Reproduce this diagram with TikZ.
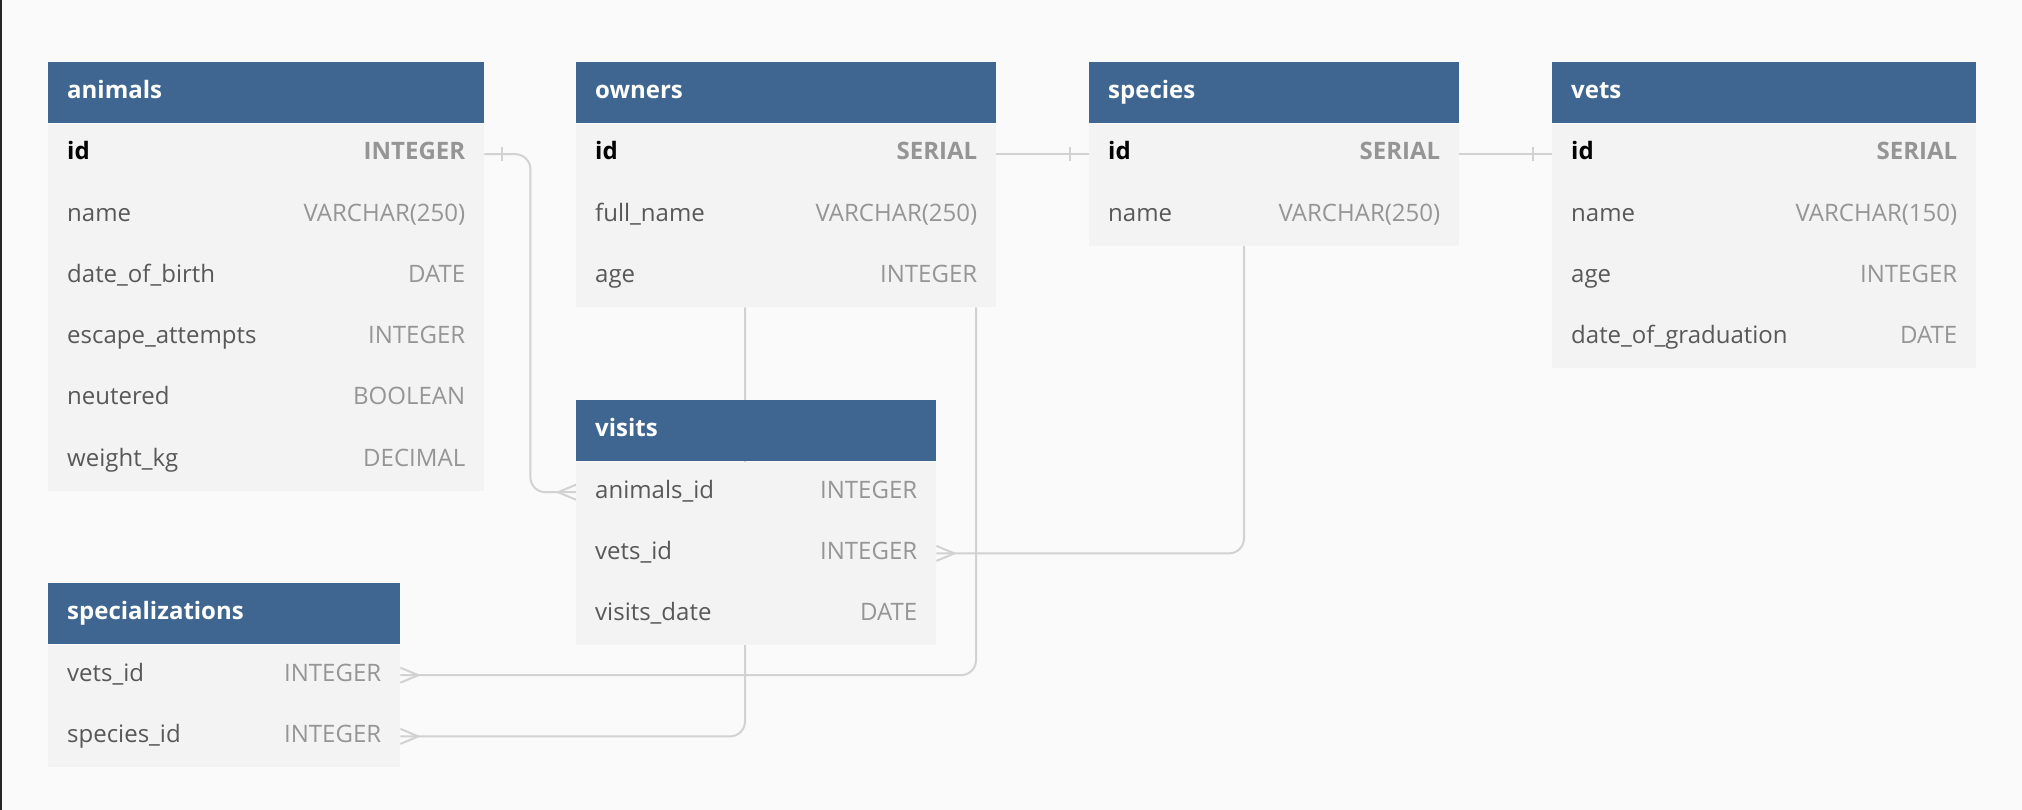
\documentclass[tikz,border=0pt]{standalone}
\usepackage{fontspec}
\setmainfont{Open Sans}
\usetikzlibrary{calc}
\pgfdeclarelayer{back}
\pgfdeclarelayer{wires}
\pgfsetlayers{back,wires,main}
\definecolor{pagebg}{HTML}{FAFAFA}
\definecolor{hdrblue}{HTML}{3F6690}
\definecolor{rowbg}{HTML}{F3F3F3}
\definecolor{fname}{HTML}{585858}
\definecolor{ftype}{HTML}{959595}
\definecolor{wire}{HTML}{D2D2D2}
\definecolor{edge}{HTML}{262626}
\tikzset{
  hdr/.style={fill=hdrblue, draw=none, inner sep=0pt, minimum height=61pt, anchor=north west},
  rowbox/.style={fill=rowbg, draw=none, inner sep=0pt, minimum height=61.2pt, anchor=north west},
  titletext/.style={text=white, font=\fontsize{24}{29}\selectfont\bfseries, inner sep=0pt, anchor=base west},
  fld/.style={text=fname, font=\fontsize{24}{29}\selectfont, inner sep=0pt, anchor=base west},
  typ/.style={text=ftype, font=\fontsize{24}{29}\selectfont, inner sep=0pt, anchor=base east},
  keyfld/.style={text=black, font=\fontsize{24}{29}\selectfont\bfseries, inner sep=0pt, anchor=base west},
  keytyp/.style={text=ftype, font=\fontsize{24}{29}\selectfont\bfseries, inner sep=0pt, anchor=base east},
  conn/.style={draw=wire, line width=2pt, rounded corners=15pt},
  ermark/.style={draw=wire, line width=2pt},
}
\newcommand{\erTable}[5]{%
  \node[hdr, minimum width=#4pt] (#1) at (#2,#3) {};
  \node[titletext] (#1-t) at ([xshift=19pt,yshift=-5.8pt]#1.west) {#5};
}
\newcommand{\erRow}[7]{%
  \node[rowbox, minimum width=#3pt] (#1-r#2) at ([yshift={-(#2-1)*61.2pt}]#1.south west) {};
  \node[#6] (#1-n#2) at ([xshift=19pt,yshift=-5.8pt]#1-r#2.west) {#4};
  \node[#7] (#1-y#2) at ([xshift=-19pt,yshift=-5.8pt]#1-r#2.east) {#5};
}
\newcommand{\crowW}[1]{%
  \draw[ermark] ([xshift=-18pt]#1) -- ([yshift=7.5pt]#1) ([xshift=-18pt]#1) -- ([yshift=-7.5pt]#1);
}
\newcommand{\crowE}[1]{%
  \draw[ermark] ([xshift=18pt]#1) -- ([yshift=7.5pt]#1) ([xshift=18pt]#1) -- ([yshift=-7.5pt]#1);
}
\newcommand{\tickAt}[2]{%
  \draw[ermark] ([xshift=#2pt,yshift=6.8pt]#1) -- ([xshift=#2pt,yshift=-6.8pt]#1);
}
\begin{document}
\begin{tikzpicture}[x=1pt,y=-1pt]
\useasboundingbox (0,0) rectangle (2022,810);
\begin{pgfonlayer}{back}
  \fill[pagebg] (0,0) rectangle (2022,810);
  \fill[edge] (0,0) rectangle (2.3,810);
\end{pgfonlayer}

% animals
\erTable{animals}{48}{62}{436}{animals}
\erRow{animals}{1}{436}{id}{INTEGER}{keyfld}{keytyp}
\erRow{animals}{2}{436}{name}{VARCHAR(250)}{fld}{typ}
\erRow{animals}{3}{436}{date\_of\_birth}{DATE}{fld}{typ}
\erRow{animals}{4}{436}{escape\_attempts}{INTEGER}{fld}{typ}
\erRow{animals}{5}{436}{neutered}{BOOLEAN}{fld}{typ}
\erRow{animals}{6}{436}{weight\_kg}{DECIMAL}{fld}{typ}

% owners
\erTable{owners}{576}{62}{420}{owners}
\erRow{owners}{1}{420}{id}{SERIAL}{keyfld}{keytyp}
\erRow{owners}{2}{420}{full\_name}{VARCHAR(250)}{fld}{typ}
\erRow{owners}{3}{420}{age}{INTEGER}{fld}{typ}

% species
\erTable{species}{1089}{62}{370}{species}
\erRow{species}{1}{370}{id}{SERIAL}{keyfld}{keytyp}
\erRow{species}{2}{370}{name}{VARCHAR(250)}{fld}{typ}

% vets
\erTable{vets}{1552}{62}{424}{vets}
\erRow{vets}{1}{424}{id}{SERIAL}{keyfld}{keytyp}
\erRow{vets}{2}{424}{name}{VARCHAR(150)}{fld}{typ}
\erRow{vets}{3}{424}{age}{INTEGER}{fld}{typ}
\erRow{vets}{4}{424}{date\_of\_graduation}{DATE}{fld}{typ}

% visits
\erTable{visits}{576}{400}{360}{visits}
\erRow{visits}{1}{360}{animals\_id}{INTEGER}{fld}{typ}
\erRow{visits}{2}{360}{vets\_id}{INTEGER}{fld}{typ}
\erRow{visits}{3}{360}{visits\_date}{DATE}{fld}{typ}

% specializations
\erTable{spec}{48}{583}{352}{specializations}
\erRow{spec}{1}{352}{vets\_id}{INTEGER}{fld}{typ}
\erRow{spec}{2}{352}{species\_id}{INTEGER}{fld}{typ}

\begin{pgfonlayer}{wires}
  % animals.id -> visits.animals_id
  \draw[conn] (animals-r1.east) -- ++(46,0) |- (visits-r1.west);
  \tickAt{animals-r1.east}{18}
  \crowW{visits-r1.west}
  % owners.id -> species.id
  \draw[conn] (owners-r1.east) -- (species-r1.west);
  \tickAt{species-r1.west}{-19}
  % species.id -> vets.id
  \draw[conn] (species-r1.east) -- (vets-r1.west);
  \tickAt{vets-r1.west}{-19}
  % owners -> specializations.species_id (behind visits)
  \draw[conn] ([xshift=169pt]owners-r3.south west) |- (spec-r2.east);
  \crowE{spec-r2.east}
  % owners -> specializations.vets_id
  \draw[conn] ([xshift=400pt]owners-r3.south west) |- (spec-r1.east);
  \crowE{spec-r1.east}
  % species -> visits.vets_id
  \draw[conn] ([xshift=155pt]species-r2.south west) |- (visits-r2.east);
  \crowE{visits-r2.east}
\end{pgfonlayer}
\end{tikzpicture}
\end{document}
